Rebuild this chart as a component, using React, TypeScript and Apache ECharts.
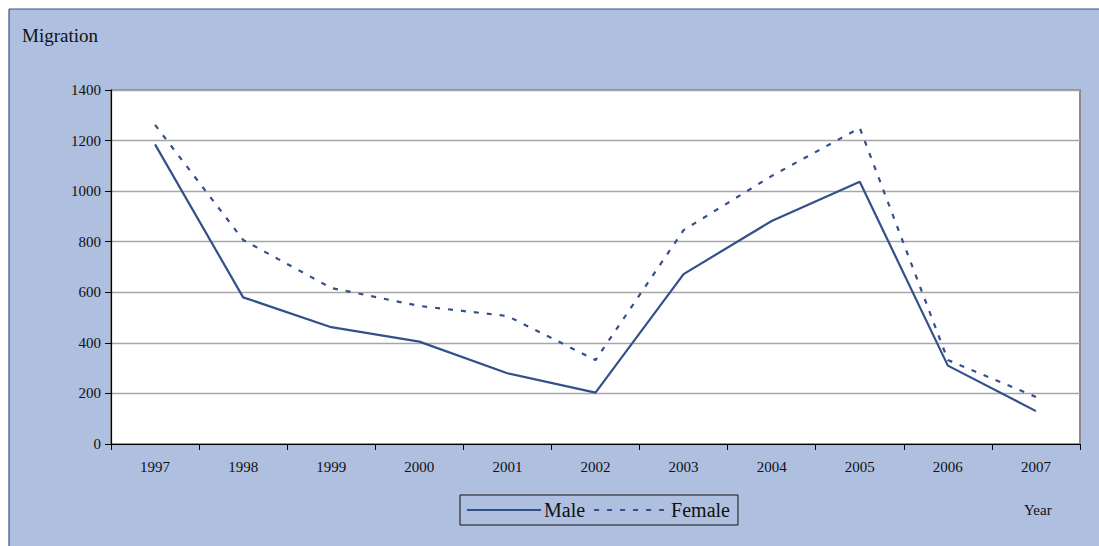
import React, { useEffect, useRef } from "react";
import * as echarts from "echarts";

const years = ["1997", "1998", "1999", "2000", "2001", "2002", "2003", "2004", "2005", "2006", "2007"];
const male = [1185, 580, 462, 405, 280, 203, 672, 882, 1037, 310, 130];
const female = [1262, 807, 617, 546, 506, 332, 846, 1060, 1250, 332, 186];
const yTicks = [0, 200, 400, 600, 800, 1000, 1200, 1400];

const FONT = "'Liberation Serif', 'Times New Roman', serif";
const LINE = "#33508A";

export default function App() {
  const ref = useRef<HTMLDivElement>(null);
  useEffect(() => {
    const chart = echarts.init(ref.current!, null, { renderer: "svg" });
    chart.setOption({
      animation: false,
      backgroundColor: "#ffffff",
      textStyle: { fontFamily: FONT },
      graphic: [
        {
          type: "rect",
          z: -10,
          silent: true,
          shape: { x: 9, y: 9, width: 1100, height: 550 },
          style: { fill: "#AFBFDF" },
        },
        {
          type: "line",
          z: -9,
          shape: { x1: 9, y1: 9, x2: 1099, y2: 9 },
          style: { stroke: "#3A5288", lineWidth: 1.2 },
        },
        {
          type: "line",
          z: -9,
          shape: { x1: 9, y1: 9, x2: 9, y2: 546 },
          style: { stroke: "#3A5288", lineWidth: 1.2 },
        },
        {
          type: "rect",
          z: -8,
          silent: true,
          shape: { x: 111, y: 90, width: 969, height: 354 },
          style: { fill: "#ffffff", stroke: "#8C8C8C", lineWidth: 2 },
        },
        {
          type: "text",
          left: 22,
          top: 26,
          style: { text: "Migration", font: `19px ${FONT}`, fill: "#111" },
        },
        {
          type: "text",
          left: 1024,
          top: 502,
          style: { text: "Year", font: `15px ${FONT}`, fill: "#111" },
        },
      ],
      grid: { left: 111, top: 90, right: 19, bottom: 102, containLabel: false },
      legend: {
        left: 460,
        top: 495,
        data: ["Male", "Female"],
        itemWidth: 74,
        itemHeight: 10,
        itemGap: 8,
        padding: [5, 8, 5, 6],
        borderColor: "#111",
        borderWidth: 1,
        itemStyle: { color: "transparent", borderColor: "transparent", borderWidth: 0 },
        textStyle: { fontFamily: FONT, fontSize: 20, color: "#111", padding: [0, 0, 0, -2] },
      },
      xAxis: {
        type: "category",
        data: years,
        boundaryGap: true,
        axisLine: { lineStyle: { color: "#000", width: 1.2 } },
        axisTick: { show: true, alignWithLabel: false, length: 6, inside: false, lineStyle: { color: "#000" } },
        axisLabel: { color: "#111", fontFamily: FONT, fontSize: 15, margin: 15 },
        splitLine: { show: false },
      },
      yAxis: {
        type: "value",
        min: 0,
        max: 1400,
        interval: 200,
        axisLine: { show: true, lineStyle: { color: "#000", width: 1.2 } },
        axisTick: { show: true, length: 6, lineStyle: { color: "#000" } },
        axisLabel: {
          color: "#111",
          fontFamily: FONT,
          fontSize: 15,
          margin: 10,
          formatter: (v: number) => (yTicks.includes(v) ? String(v) : ""),
        },
        splitLine: { show: true, lineStyle: { color: "#A6A6A6", width: 1.3 } },
      },
      series: [
        {
          name: "Male",
          type: "line",
          data: male,
          symbol: "none",
          lineStyle: { color: LINE, width: 2.2, type: "solid" },
          itemStyle: { color: LINE },
        },
        {
          name: "Female",
          type: "line",
          data: female,
          symbol: "none",
          lineStyle: { color: LINE, width: 2.2, type: [5, 8] },
          itemStyle: { color: LINE },
        },
      ],
    });
    return () => chart.dispose();
  }, []);
  return (
    <div
      ref={ref}
      style={{ position: "fixed", left: 0, top: 0, width: 1099, height: 546 }}
    />
  );
}
